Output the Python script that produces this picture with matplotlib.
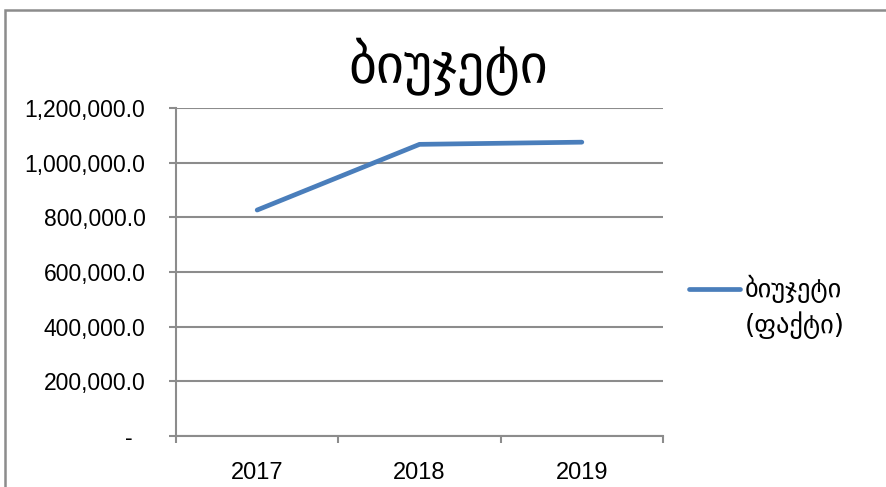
import matplotlib
matplotlib.use('Agg')
import matplotlib.pyplot as plt
from matplotlib.lines import Line2D
from matplotlib.patches import Rectangle
from matplotlib.ticker import FuncFormatter, FixedLocator

# budget (actual) by year
years = ['2017', '2018', '2019']
budget = [826700, 1067000, 1075000]
title = 'ბიუჯეტი'
series_label = ['ბიუჯეტი', '(ფაქტი)']

plt.rcParams['font.family'] = ['Liberation Sans', 'DejaVu Sans']

GRID = '#8c8c8c'
BLUE = '#4a7ebb'

fig = plt.figure(figsize=(8.86, 4.87), dpi=100)
ax = fig.add_axes([176 / 886, 1 - 436 / 487, (663 - 176) / 886, (436 - 108) / 487])

x = list(range(len(years)))
ax.plot(x, budget, color=BLUE, lw=3.4, solid_capstyle='round', solid_joinstyle='miter')

ax.set_xlim(-0.5, len(years) - 0.5)
ax.set_ylim(0, 1200000)
ax.set_yticks(range(0, 1200001, 200000))
# accounting style: zero shown as a dash
ax.yaxis.set_major_formatter(FuncFormatter(lambda v, pos: '-  ' if v == 0 else f'{v:,.1f}'))

ax.xaxis.set_major_locator(FixedLocator([i - 0.5 for i in range(len(years) + 1)]))
ax.xaxis.set_major_formatter(FuncFormatter(lambda v, pos: ''))
ax.set_xticks(x, minor=True)
ax.set_xticklabels(years, minor=True)

ax.grid(axis='y', color=GRID, lw=1.5)
ax.set_axisbelow(True)
for s in ['top', 'right']:
    ax.spines[s].set_visible(False)
for s in ['left', 'bottom']:
    ax.spines[s].set_color(GRID)
    ax.spines[s].set_linewidth(1.5)

ax.tick_params(axis='y', length=5, width=1.5, color=GRID, pad=17, labelsize=16.5)
ax.tick_params(axis='x', which='major', length=5, width=1.5, color=GRID)
ax.tick_params(axis='x', which='minor', length=0, pad=18.5, labelsize=17)

fig.text(0.506, 1 - 67 / 487, title, ha='center', va='center', fontsize=39, family='DejaVu Sans')

# legend
fig.add_artist(Line2D([689 / 886, 740 / 886], [1 - 289 / 487] * 2, color=BLUE, lw=3.4,
                      solid_capstyle='round'))
fig.text(745 / 886, 1 - 289 / 487, series_label[0], ha='left', va='center', fontsize=19, family='DejaVu Sans')
fig.text(745 / 886, 1 - 325 / 487, series_label[1], ha='left', va='center', fontsize=19, family='DejaVu Sans')

# chart frame (cut off at right and bottom)
fig.add_artist(Rectangle((5 / 886, -0.1), 1.2, 1 - 10 / 487 + 0.1, fill=False,
                         edgecolor=GRID, lw=1.8, transform=fig.transFigure))

fig.savefig('out.png', dpi=100)
